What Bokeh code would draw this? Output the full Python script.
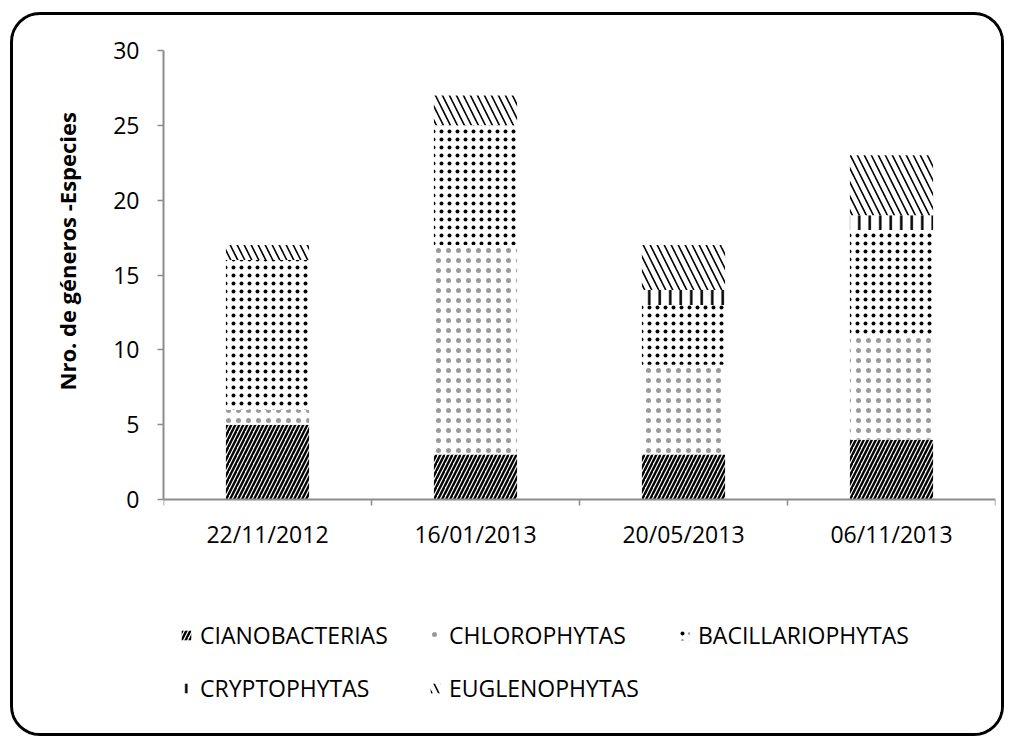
from bokeh.plotting import figure
from bokeh.models import (ColumnDataSource, FixedTicker, Legend, LegendItem,
                          Range1d, Title)
from bokeh.embed import file_html
from bokeh.resources import INLINE

# ---- data ----
dates = ["22/11/2012", "16/01/2013", "20/05/2013", "06/11/2013"]
groups = ["CIANOBACTERIAS", "CHLOROPHYTAS", "BACILLARIOPHYTAS",
          "CRYPTOPHYTAS", "EUGLENOPHYTAS"]
cianobacterias = [5, 3, 3, 4]
chlorophytas = [1, 14, 6, 7]
bacillariophytas = [10, 8, 4, 7]
cryptophytas = [0, 0, 1, 1]
euglenophytas = [1, 2, 3, 4]
y_ticks = [0, 5, 10, 15, 20, 25, 30]
y_label = "Nro. de géneros -Especies"

# ---- styles ----
hatch_patterns = ["/", ".", ".", "|", "\\"]
hatch_scales = [8, 10, 8, 10.5, 14]
hatch_weights = [2.4, 0.5, 4, 2.5, 1.6]
hatch_colors = ["black", "#9a9a9a", "black", "black", "black"]
FONT = "Open Sans"
AXIS_GRAY = "#8c8c8c"

# layout (pixels inside the rounded border)
W, H = 994, 724
TOP, LEFT, RIGHT = 35, 150, 12
PLOT_H = 449          # height of the 0..30 value span
Y_MAX = 30
below_px = H - TOP - PLOT_H
y_start = -Y_MAX * below_px / PLOT_H   # extra room under the bars for the legend

centers = [i + 0.5 for i in range(len(dates))]
bounds = [i for i in range(len(dates) + 1)]
source = ColumnDataSource(data=dict(
    x=centers,
    CIANOBACTERIAS=cianobacterias,
    CHLOROPHYTAS=chlorophytas,
    BACILLARIOPHYTAS=bacillariophytas,
    CRYPTOPHYTAS=cryptophytas,
    EUGLENOPHYTAS=euglenophytas,
))

p = figure(width=W, height=H, x_range=Range1d(0, len(dates)),
           y_range=Range1d(y_start, Y_MAX), output_backend="svg",
           toolbar_location=None,
           min_border_left=LEFT, min_border_right=RIGHT, min_border_top=TOP,
           min_border_bottom=0)
p.margin = (12, 0, 0, 10)
p.styles = {"border": "3px solid black", "border-radius": "30px",
            "overflow": "hidden"}
p.outline_line_color = None
p.grid.visible = False
p.background_fill_color = "white"
p.border_fill_color = "white"

renderers = p.vbar_stack(groups, x="x", width=0.4, source=source,
                         fill_color="white", line_color=None,
                         hatch_pattern=hatch_patterns, hatch_color=hatch_colors,
                         hatch_scale=hatch_scales, hatch_weight=hatch_weights)

# x axis, pinned at value 0
xa = p.xaxis[0]
xa.fixed_location = 0
xa.ticker = FixedTicker(ticks=centers, minor_ticks=bounds)
xa.major_label_overrides = {c: d for c, d in zip(centers, dates)}
xa.major_tick_line_color = None
xa.minor_tick_line_color = AXIS_GRAY
xa.minor_tick_line_width = 1.5
xa.minor_tick_out = 6
xa.minor_tick_in = 0
xa.axis_line_color = AXIS_GRAY
xa.axis_line_width = 2
xa.major_label_text_font = FONT
xa.major_label_text_font_size = "23px"
xa.major_label_text_color = "black"
xa.major_label_standoff = 12

# y axis
ya = p.yaxis[0]
ya.bounds = (0, Y_MAX)
ya.ticker = FixedTicker(ticks=y_ticks)
ya.minor_tick_line_color = None
ya.major_tick_line_color = AXIS_GRAY
ya.major_tick_line_width = 1.5
ya.major_tick_out = 6
ya.major_tick_in = 0
ya.axis_line_color = AXIS_GRAY
ya.axis_line_width = 2
ya.major_label_text_font = FONT
ya.major_label_text_font_size = "23px"
ya.major_label_text_color = "black"
ya.major_label_standoff = 18

# y axis title, placed along the 0..30 span
ytitle = Title(text=y_label, align="left", offset=349,
               text_font=FONT, text_font_style="bold",
               text_font_size="22px", text_color="black", standoff=57)
p.add_layout(ytitle, "left")

# legend (inside the frame, under the axis)
items = [LegendItem(label=g, renderers=[r]) for g, r in zip(groups, renderers)]
legend = Legend(items=items, orientation="horizontal", ncols=3,
                location=(17, 35), padding=0, margin=0,
                border_line_color=None, background_fill_alpha=0,
                glyph_width=12, glyph_height=12, label_width=208,
                label_standoff=8, spacing=21,
                label_text_font=FONT, label_text_font_size="23px",
                label_text_color="black")
p.add_layout(legend, "center")

open("out.html", "w").write(file_html(p, INLINE))
